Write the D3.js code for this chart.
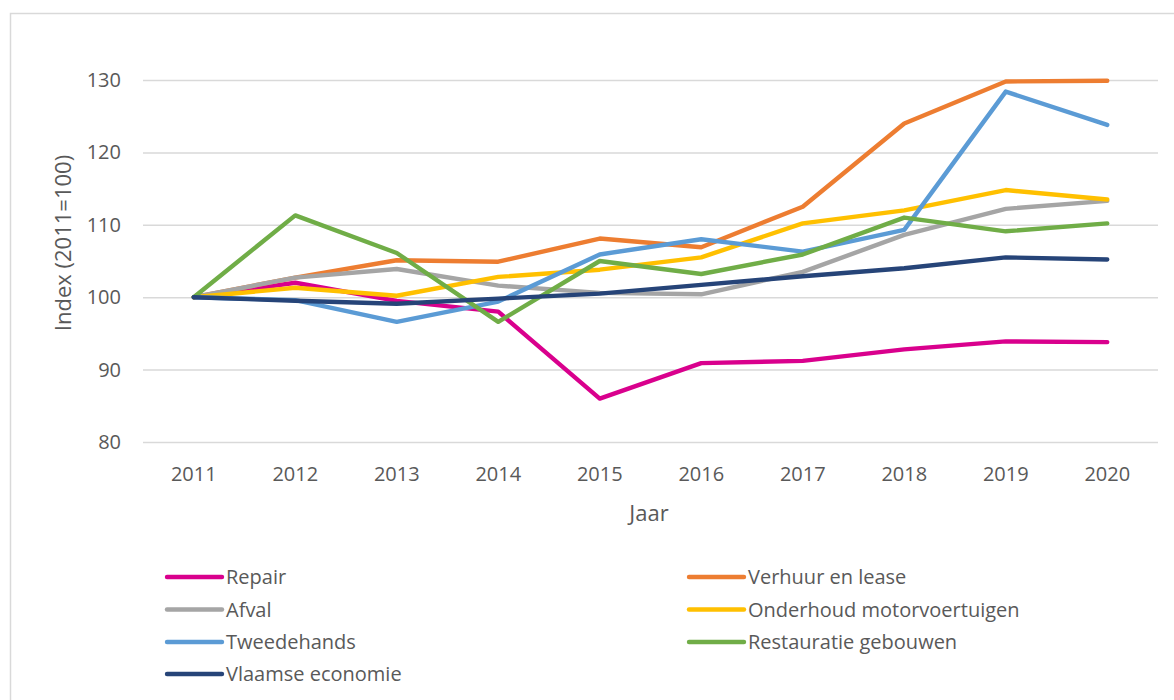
<!DOCTYPE html>
<html>
<head>
<meta charset="utf-8">
<script src="https://cdn.jsdelivr.net/npm/d3@7"></script>
<style>
  body { margin: 0; background: #fff; }
  svg text { font-family: "Open Sans", sans-serif; fill: #595959; }
</style>
</head>
<body>
<div id="chart"></div>
<script>
// data
var years = ['2011', '2012', '2013', '2014', '2015', '2016', '2017', '2018', '2019', '2020'];
var yTicks = [80, 90, 100, 110, 120, 130];

var seriesNames = ['Repair', 'Verhuur en lease', 'Afval', 'Onderhoud motorvoertuigen',
  'Tweedehands', 'Restauratie gebouwen', 'Vlaamse economie'];
var seriesColors = ['#d9008d', '#ed7d31', '#a5a5a5', '#ffc000', '#5b9bd5', '#70ad47', '#264478'];

var repair      = [100, 102.0, 99.5, 98.0, 86.0, 90.9, 91.2, 92.8, 93.9, 93.8];
var verhuur     = [100, 102.7, 105.1, 104.9, 108.1, 106.9, 112.5, 124.0, 129.8, 129.9];
var afval       = [100, 102.7, 103.9, 101.6, 100.6, 100.4, 103.5, 108.6, 112.2, 113.3];
var onderhoud   = [100, 101.3, 100.2, 102.8, 103.8, 105.5, 110.2, 112.0, 114.8, 113.5];
var tweedehands = [100, 99.6, 96.6, 99.4, 105.9, 108.0, 106.3, 109.3, 128.4, 123.8];
var restauratie = [100, 111.3, 106.1, 96.6, 105.0, 103.2, 105.9, 111.0, 109.1, 110.2];
var vlaamse     = [100, 99.5, 99.1, 99.8, 100.5, 101.7, 102.9, 104.0, 105.5, 105.2];

var allValues = [repair, verhuur, afval, onderhoud, tweedehands, restauratie, vlaamse];

var width = 1174, height = 700;
var plot = { left: 143, right: 1158, top: 80, bottom: 442 };

var svg = d3.select('#chart').append('svg')
  .attr('width', width)
  .attr('height', height);

// chart border (Excel chart area)
svg.append('rect')
  .attr('x', 10.5).attr('y', 13.5)
  .attr('width', width + 20).attr('height', height + 20)
  .attr('fill', 'none')
  .attr('stroke', '#d9d9d9')
  .attr('stroke-width', 1.5);

var x = d3.scaleBand()
  .domain(years)
  .range([plot.left, plot.right]);

var y = d3.scaleLinear()
  .domain([80, 130])
  .range([plot.bottom, plot.top]);

// gridlines
var yAxis = d3.axisLeft(y)
  .tickValues(yTicks)
  .tickSize(-(plot.right - plot.left))
  .tickPadding(22);

var gy = svg.append('g')
  .attr('transform', 'translate(' + plot.left + ',0)')
  .call(yAxis);
gy.select('.domain').remove();
gy.selectAll('line')
  .attr('stroke', '#d9d9d9')
  .attr('stroke-width', 1.5);
gy.selectAll('text')
  .style('font-size', '20px')
  .attr('fill', '#595959');

var xAxis = d3.axisBottom(x)
  .tickSize(0)
  .tickPadding(25);

var gx = svg.append('g')
  .attr('transform', 'translate(0,' + plot.bottom + ')')
  .call(xAxis);
gx.select('.domain').remove();
gx.selectAll('text')
  .style('font-size', '20px')
  .attr('fill', '#595959');

// axis titles
svg.append('text')
  .attr('x', 649)
  .attr('y', 521)
  .attr('text-anchor', 'middle')
  .style('font-size', '22px')
  .text('Jaar');

svg.append('text')
  .attr('transform', 'translate(71,243) rotate(-90)')
  .attr('text-anchor', 'middle')
  .style('font-size', '22px')
  .text('Index (2011=100)');

// lines
var line = d3.line()
  .x(function(d, i) { return x(years[i]) + x.bandwidth() / 2; })
  .y(function(d) { return y(d); });

svg.append('g').selectAll('path')
  .data(allValues)
  .enter().append('path')
  .attr('d', line)
  .attr('fill', 'none')
  .attr('stroke', function(d, i) { return seriesColors[i]; })
  .attr('stroke-width', 4.4)
  .attr('stroke-linejoin', 'round')
  .attr('stroke-linecap', 'round');

// legend: two columns, row-major
var legendCols = [167, 689];
var legendRows = [577, 609.5, 642, 674];

var legend = svg.append('g').selectAll('g')
  .data(seriesNames)
  .enter().append('g')
  .attr('transform', function(d, i) {
    return 'translate(' + legendCols[i % 2] + ',' + legendRows[Math.floor(i / 2)] + ')';
  });

legend.append('line')
  .attr('x1', 0).attr('x2', 55)
  .attr('y1', 0).attr('y2', 0)
  .attr('stroke', function(d, i) { return seriesColors[i]; })
  .attr('stroke-width', 4.4)
  .attr('stroke-linecap', 'round');

legend.append('text')
  .attr('x', 59)
  .attr('y', 7)
  .style('font-size', '20px')
  .text(function(d) { return d; });
</script>
</body>
</html>
